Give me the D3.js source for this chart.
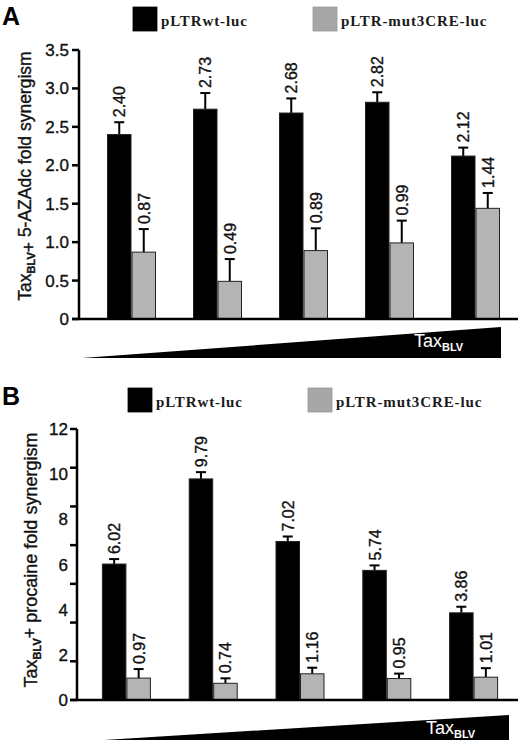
<!DOCTYPE html>
<html><head><meta charset="utf-8">
<script src="https://cdn.jsdelivr.net/npm/d3@7"></script>
<style>body{margin:0;background:#fff}svg{display:block}</style>
</head><body>
<script>
// ---- data ----
const categories = ["1","2","3","4","5"];
const seriesNames = ["pLTRwt-luc","pLTR-mut3CRE-luc"];
const aWt = [2.40, 2.73, 2.68, 2.82, 2.12];
const aMut = [0.87, 0.49, 0.89, 0.99, 1.44];
const aWtErr = [0.16, 0.21, 0.19, 0.13, 0.11];
const aMutErr = [0.30, 0.29, 0.29, 0.29, 0.20];
const bWt = [6.02, 9.79, 7.02, 5.74, 3.86];
const bMut = [0.97, 0.74, 1.16, 0.95, 1.01];
const bWtErr = [0.22, 0.30, 0.22, 0.22, 0.27];
const bMutErr = [0.40, 0.22, 0.27, 0.22, 0.40];
const aTicks = [0, 0.5, 1.0, 1.5, 2.0, 2.5, 3.0, 3.5];
const aTickLabels = ["0","0.5","1.0","1.5","2.0","2.5","3.0","3.5"];
const bTickMarks = [0, 1.714, 3.429, 5.143, 6.857, 8.571, 10.286, 12];
const bTickLabels = [0, 2, 4, 6, 8, 10, 12];

const W = 520, H = 740;
const svg = d3.select("body").append("svg").attr("width", W).attr("height", H);
const colors = ["#000000", "#b4b4b4"];
const legendGray = "#a6a6a6";
const SANS = "Liberation Sans, Arial, sans-serif";

function heavy(sel) { return sel.attr("stroke", "#111").attr("stroke-width", 0.35); }

function panel(cfg) {
  const g = svg.append("g");
  const y = d3.scaleLinear().domain(cfg.yDomain).range(cfg.yRange);
  const x = d3.scaleBand().domain(categories).range(cfg.xRange).padding(0);
  const bw = cfg.barW;
  g.append("text").attr("x", 2).attr("y", cfg.letterY).text(cfg.letter)
    .attr("font-family", SANS).attr("font-weight", "bold").attr("font-size", 25);
  cfg.legendX.forEach((lx, i) => {
    g.append("rect").attr("x", lx).attr("y", cfg.legendY).attr("width", 24).attr("height", 24)
      .attr("fill", i === 0 ? "#000" : legendGray).attr("stroke", i === 0 ? "#000" : "#999").attr("stroke-width", 0.8);
    g.append("text").attr("x", lx + 28).attr("y", cfg.legendY + 19).text(seriesNames[i])
      .attr("font-family", "Liberation Serif, Times New Roman, serif").attr("font-weight", "bold")
      .attr("font-size", 15).attr("letter-spacing", 0.9).attr("fill", "#1a1a1a");
  });
  const series = [
    {vals: cfg.wt, errs: cfg.wtErr, off: -bw, color: colors[0]},
    {vals: cfg.mut, errs: cfg.mutErr, off: 0, color: colors[1]}
  ];
  series.forEach(s => {
    const gg = g.append("g");
    categories.forEach((c, i) => {
      const cx = x(c) + x.bandwidth() / 2;
      const bx = cx + s.off;
      const v = s.vals[i], e = s.errs[i];
      const topVal = v + e;
      const ex = bx + bw / 2;
      gg.append("line").attr("x1", ex).attr("x2", ex).attr("y1", y(v)).attr("y2", y(topVal))
        .attr("stroke", "#000").attr("stroke-width", 2);
      gg.append("line").attr("x1", ex - 5).attr("x2", ex + 5).attr("y1", y(topVal)).attr("y2", y(topVal))
        .attr("stroke", "#000").attr("stroke-width", 2);
      gg.append("rect").attr("x", bx + 0.5).attr("y", y(v)).attr("width", bw - 1).attr("height", y(0) - y(v))
        .attr("fill", s.color).attr("stroke", "#222").attr("stroke-width", 1);
      const ly = y(topVal) - 5;
      heavy(gg.append("text").attr("transform", `translate(${ex + 6},${ly}) rotate(-90)`)
        .text(v.toFixed(2)).attr("font-family", SANS)
        .attr("font-size", 16).attr("fill", "#111"));
    });
  });
  const ax = g.append("g").attr("transform", `translate(${cfg.axisX},0)`);
  ax.append("line").attr("x1", 0).attr("x2", 0).attr("y1", cfg.yRange[1]).attr("y2", y(0))
    .attr("stroke", "#000").attr("stroke-width", 2.5);
  cfg.tickMarks.forEach(t => {
    ax.append("line").attr("x1", -7).attr("x2", 0).attr("y1", y(t)).attr("y2", y(t))
      .attr("stroke", "#000").attr("stroke-width", 2.5);
  });
  cfg.tickLabels.forEach((t, i) => {
    heavy(ax.append("text").attr("x", cfg.labelX - cfg.axisX).attr("y", y(cfg.tickLabelVals[i]) + cfg.labelDy)
      .attr("text-anchor", "end").text(t)
      .attr("font-family", SANS).attr("font-size", 17).attr("fill", "#111"));
  });
  g.append("line").attr("x1", cfg.axisX - 7).attr("x2", 518).attr("y1", y(0)).attr("y2", y(0))
    .attr("stroke", "#000").attr("stroke-width", 2.5);
  const tt = heavy(g.append("text").attr("transform", `translate(${cfg.titleX},${cfg.titleY}) rotate(-90)`)
    .attr("text-anchor", "middle").attr("font-family", SANS)
    .attr("font-size", cfg.titleSize).attr("fill", "#111"));
  tt.append("tspan").text("Tax");
  tt.append("tspan").text("BLV").attr("font-size", 11).attr("font-weight", "bold").attr("dy", 4);
  tt.append("tspan").text(cfg.titlePlus).attr("dy", cfg.plusDy);
  tt.append("tspan").text(cfg.titleRest).attr("dy", -4 - cfg.plusDy);
  const tri = cfg.tri;
  g.append("path").attr("d", `M${tri[0]},${tri[1]}L${tri[2]},${tri[3]}L${tri[2]},${tri[1]}Z`).attr("fill", "#000");
  const tx = g.append("text").attr("x", cfg.triTextX).attr("y", cfg.triTextY)
    .attr("font-family", SANS).attr("font-size", 18).attr("fill", "#fff");
  tx.append("tspan").text("Tax");
  tx.append("tspan").text("BLV").attr("font-size", 11).attr("font-weight", "bold").attr("dy", 4);
}

panel({
  letter: "A", letterY: 25, legendX: [133, 313], legendY: 7,
  yDomain: [0, 3.5], yRange: [319, 50], xRange: [88.5, 518.5], barW: 24.5,
  wt: aWt, mut: aMut, wtErr: aWtErr, mutErr: aMutErr,
  axisX: 79, tickMarks: aTicks, tickLabels: aTickLabels, tickLabelVals: aTicks, labelX: 69, labelDy: 6,
  titleX: 31, titleY: 176, titleSize: 17.5, titlePlus: "+", plusDy: 0, titleRest: " 5-AZAdc fold synergism",
  tri: [82, 358, 501, 327], triTextX: 414, triTextY: 347
});
panel({
  letter: "B", letterY: 405, legendX: [128, 308], legendY: 388,
  yDomain: [0, 12], yRange: [700, 429], xRange: [83, 517], barW: 24.5,
  wt: bWt, mut: bMut, wtErr: bWtErr, mutErr: bMutErr,
  axisX: 77, tickMarks: bTickMarks, tickLabels: bTickLabels.map(String), tickLabelVals: bTickLabels, labelX: 68, labelDy: 6,
  titleX: 37, titleY: 560, titleSize: 18, titlePlus: "+", plusDy: -5, titleRest: " procaine fold synergism",
  tri: [88, 741, 509, 715], triTextX: 426, triTextY: 734
});
</script>
</body></html>
